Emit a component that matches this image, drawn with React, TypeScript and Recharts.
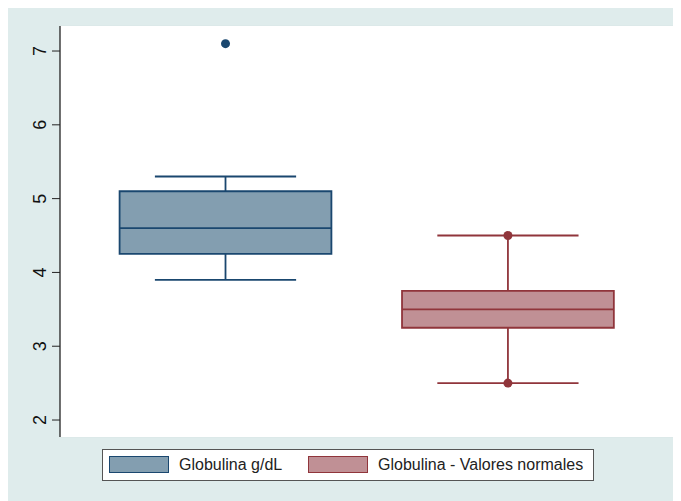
import React from "react";
import {
  ComposedChart,
  XAxis,
  YAxis,
  CartesianGrid,
  ReferenceArea,
  ReferenceLine,
  Scatter,
  Legend,
} from "recharts";

const categories = ["Globulina g/dL", "Globulina - Valores normales"];
const lowerWhisker = [3.9, 2.5];
const q1 = [4.25, 3.25];
const median = [4.6, 3.5];
const q3 = [5.1, 3.75];
const upperWhisker = [5.3, 4.5];
const markerValues = [[7.1], [4.5, 2.5]];
const yTicks = [2, 3, 4, 5, 6, 7];

const strokes = ["#1a476f", "#90353b"];
const fills = ["#839eb0", "#c09095"];

const BOX_HALF = 0.375;
const CAP_HALF = 0.25;
const SW = 1.8;

const markerData = categories.map((_, i) =>
  markerValues[i].map((v) => ({ x: i + 1, y: v }))
);

const YTick = (props: any) => {
  const { x, y, payload } = props;
  return (
    <text
      x={x}
      y={y}
      transform={`rotate(-90 ${x} ${y})`}
      textAnchor="middle"
      fontSize={18}
      fontFamily="Liberation Sans, Arial, sans-serif"
      fill="#111"
    >
      {payload.value}
    </text>
  );
};

const LegendContent = () => (
  <div
    style={{
      width: 490,
      height: 30,
      border: "1px solid #555",
      background: "#fff",
      position: "relative",
      fontFamily: "Liberation Sans, Arial, sans-serif",
      fontSize: 16,
      color: "#222",
    }}
  >
    {categories.map((c, i) => {
      const left = i === 0 ? 6 : 205;
      return (
        <React.Fragment key={c}>
          <div
            style={{
              position: "absolute",
              left,
              top: 6,
              width: 58,
              height: 15,
              background: fills[i],
              border: `1.5px solid ${strokes[i]}`,
            }}
          />
          <div
            style={{
              position: "absolute",
              left: left + 70,
              top: 5,
              lineHeight: "20px",
              whiteSpace: "nowrap",
            }}
          >
            {c}
          </div>
        </React.Fragment>
      );
    })}
  </div>
);

export default function App() {
  return (
    <div style={{ width: 673, height: 493, background: "#dfecec", position: "relative" }}>
      <ComposedChart
        width={673}
        height={493}
        margin={{ top: 18, right: 7, left: 0, bottom: 64 }}
      >
        <rect x={52} y={18} width={614} height={411} fill="#fff" />
        <CartesianGrid
          horizontal
          vertical={false}
          stroke="#dbe8e9"
          strokeWidth={1.5}
          fill="#fff"
        />
        <XAxis
          type="number"
          dataKey="x"
          domain={[0.414, 2.588]}
          allowDataOverflow
          tick={false}
          tickLine={false}
          height={0}
          axisLine={{ stroke: "#222", strokeWidth: 1.3 }}
        />
        <YAxis
          type="number"
          dataKey="y"
          domain={[1.77, 7.339]}
          allowDataOverflow
          ticks={yTicks}
          width={52}
          tickSize={8}
          tickMargin={6}
          tick={<YTick />}
          tickLine={{ stroke: "#222" }}
          axisLine={{ stroke: "#222", strokeWidth: 1.3 }}
        />
        {categories.map((c, i) => {
          const x = i + 1;
          return (
            <React.Fragment key={c}>
              <ReferenceLine
                segment={[
                  { x, y: q3[i] },
                  { x, y: upperWhisker[i] },
                ]}
                stroke={strokes[i]}
                strokeWidth={SW}
              />
              <ReferenceLine
                segment={[
                  { x, y: q1[i] },
                  { x, y: lowerWhisker[i] },
                ]}
                stroke={strokes[i]}
                strokeWidth={SW}
              />
              <ReferenceLine
                segment={[
                  { x: x - CAP_HALF, y: upperWhisker[i] },
                  { x: x + CAP_HALF, y: upperWhisker[i] },
                ]}
                stroke={strokes[i]}
                strokeWidth={SW}
              />
              <ReferenceLine
                segment={[
                  { x: x - CAP_HALF, y: lowerWhisker[i] },
                  { x: x + CAP_HALF, y: lowerWhisker[i] },
                ]}
                stroke={strokes[i]}
                strokeWidth={SW}
              />
              <ReferenceArea
                x1={x - BOX_HALF}
                x2={x + BOX_HALF}
                y1={q1[i]}
                y2={q3[i]}
                fill={fills[i]}
                fillOpacity={1}
                stroke={strokes[i]}
                strokeWidth={SW}
              />
              <ReferenceLine
                segment={[
                  { x: x - BOX_HALF, y: median[i] },
                  { x: x + BOX_HALF, y: median[i] },
                ]}
                stroke={strokes[i]}
                strokeWidth={SW}
              />
            </React.Fragment>
          );
        })}
        {categories.map((c, i) => (
          <Scatter
            key={c}
            name={c}
            data={markerData[i]}
            fill={strokes[i]}
            isAnimationActive={false}
            shape={(p: any) => <circle cx={p.cx} cy={p.cy} r={4.5} fill={strokes[i]} />}
          />
        ))}
        <Legend
          layout="horizontal"
          verticalAlign="middle"
          align="center"
          content={<LegendContent />}
          wrapperStyle={{ position: "absolute", left: 94, top: 441, width: 492, height: 32 }}
        />
      </ComposedChart>
    </div>
  );
}
